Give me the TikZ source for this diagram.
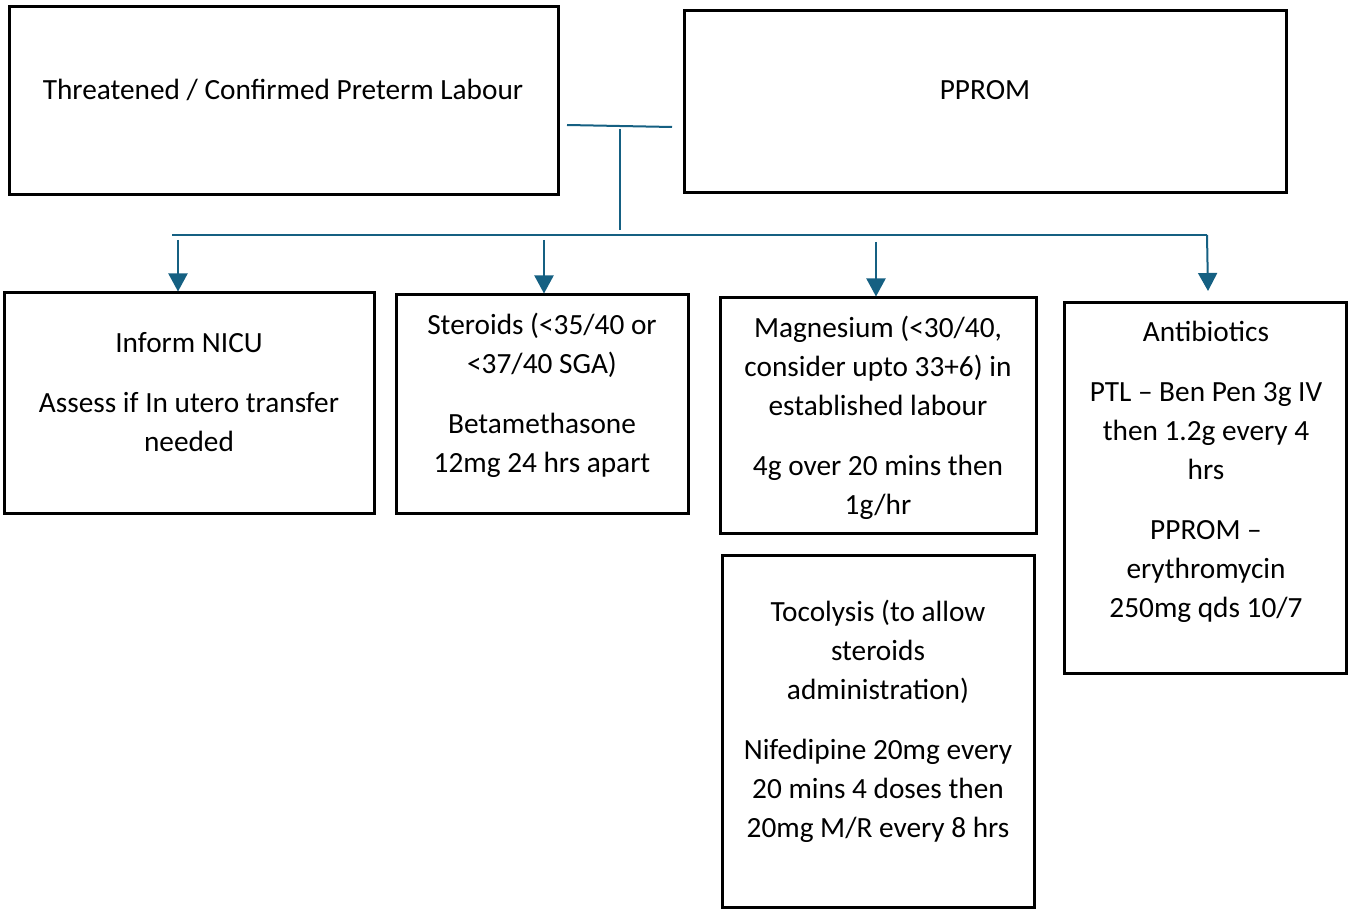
\documentclass[tikz,border=0pt]{standalone}
\usepackage{fontspec}
\setmainfont{Carlito}
\usetikzlibrary{arrows.meta}
\definecolor{conn}{RGB}{21,96,130}
\begin{document}
\begin{tikzpicture}[x=1pt,y=-1pt,
  box/.style={draw=black,line width=3pt,inner sep=0pt},
  txt/.style={align=center,inner sep=0pt,anchor=base,font=\fontsize{29.3}{39}\selectfont},
  link/.style={draw=conn,line width=2pt},
  arr/.style={link,-{Triangle[width=19pt,length=18pt]}}]
\useasboundingbox (0,0) rectangle (1355,909);
% boxes
\node[box,minimum width=549pt,minimum height=188pt] (thr) at (283.5,101) {};
\node[box,minimum width=602pt,minimum height=182pt] (pprom) at (985,102) {};
\node[box,minimum width=370pt,minimum height=220pt] (nicu) at (189,403) {};
\node[box,minimum width=292pt,minimum height=218pt] (ster) at (542,404) {};
\node[box,minimum width=316pt,minimum height=235pt] (mag) at (878,415.5) {};
\node[box,minimum width=312pt,minimum height=352pt] (toc) at (878,731) {};
\node[box,minimum width=282pt,minimum height=370pt] (anti) at (1205,488) {};
% texts (anchored at the baseline of the last line)
\node[txt] (thrt) at (283,100) {Threatened / Confirmed Preterm Labour};
\node[txt] (ppromt) at (985,100) {PPROM};
\node[txt] (nicut) at (189,451) {Inform NICU\\[21pt]Assess if In utero transfer\\needed};
\node[txt] (stert) at (542,472) {Steroids (<35/40 or\\<37/40 SGA)\\[21pt]Betamethasone\\12mg 24 hrs apart};
\node[txt] (magt) at (878,514) {Magnesium (<30/40,\\consider upto 33+6) in\\established labour\\[21pt]4g over 20 mins then\\1g/hr};
\node[txt] (toct) at (878,837) {Tocolysis (to allow\\steroids\\administration)\\[21pt]Nifedipine 20mg every\\20 mins 4 doses then\\20mg M/R every 8 hrs};
\node[txt] (antit) at (1206,617) {Antibiotics\\[21pt]PTL -- Ben Pen 3g IV\\then 1.2g every 4\\hrs\\[21pt]PPROM --\\erythromycin\\250mg qds 10/7};
% connector points
\coordinate (jl) at (567,125);
\coordinate (jr) at (672,127);
\coordinate (jt) at (620,129);
\coordinate (jb) at (620,230);
\coordinate (bl) at (172,235);
\coordinate (br) at (1207,235);
\coordinate (a1) at (178,240);
\coordinate (a2) at (544,240);
\coordinate (a3) at (876,242);
\draw[link] (jl) -- (jr);
\draw[link] (jt) -- (jb);
\draw[link] (bl) -- (br);
\draw[arr] (a1) -- (a1 |- nicu.north);
\draw[arr] (a2) -- (a2 |- ster.north);
\draw[arr] (a3) -- (a3 |- mag.north);
\draw[arr] (br) -- (1208,291);
\end{tikzpicture}
\end{document}
